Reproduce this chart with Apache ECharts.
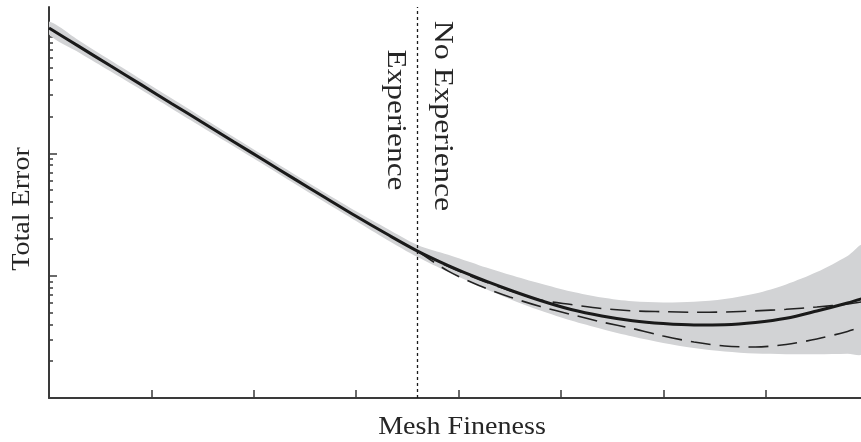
<!DOCTYPE html>
<html>
<head>
<meta charset="utf-8">
<script src="https://cdn.jsdelivr.net/npm/echarts@6/dist/echarts.min.js"></script>
<style>
  html, body { margin: 0; padding: 0; background: #fff; }
  #chart { width: 861px; height: 442px; }
</style>
</head>
<body>
<div id="chart"></div>
<script>
// Mesh fineness (arbitrary units) and total error along the common curve
const meshX = [0, 0.3, 0.6, 0.9, 1.2, 1.5, 1.8, 2.1, 2.4, 2.7, 3.0, 3.3, 3.6, 3.9, 4.2, 4.5, 4.8, 5.1, 5.4, 5.7, 6.0, 6.3, 6.6, 6.9, 7.2, 7.5, 7.8, 7.95];
const meanError = [1060, 743, 520, 365, 255, 179, 125, 88.0, 61.6, 43.4, 30.6, 21.9, 15.9, 12.1, 9.49, 7.64, 6.27, 5.29, 4.68, 4.28, 4.06, 3.95, 3.97, 4.14, 4.48, 5.14, 5.98, 6.52];
const bandUpper = [1198, 831, 577, 402, 281, 196, 137, 95.9, 67.2, 47.4, 33.6, 24.3, 17.8, 14.8, 12.2, 10.2, 8.64, 7.43, 6.63, 6.17, 6.03, 6.12, 6.45, 7.15, 8.48, 10.7, 14.5, 17.7];
const bandLower = [938, 663, 469, 331, 232, 163, 115, 80.7, 56.5, 39.7, 28.0, 19.7, 14.2, 10.7, 8.24, 6.45, 5.19, 4.30, 3.67, 3.18, 2.82, 2.56, 2.40, 2.31, 2.28, 2.28, 2.30, 2.32];

// Alternative outcomes past the experience boundary
const branchX = [3.6, 3.9, 4.2, 4.5, 4.8, 5.1, 5.4, 5.7, 6.0, 6.3, 6.6, 6.9, 7.2, 7.5, 7.8, 7.95];
const upperBranch = [15.9, 11.9, 9.31, 7.57, 6.33, 5.81, 5.39, 5.16, 5.08, 5.02, 5.05, 5.16, 5.31, 5.55, 5.87, 6.13];
const lowerBranch = [15.9, 10.9, 8.32, 6.70, 5.60, 4.82, 4.18, 3.70, 3.21, 2.87, 2.66, 2.61, 2.74, 3.04, 3.50, 3.84];

const boundaryX = 3.6;
const xTicks = [1, 2, 3, 4, 5, 6, 7];
const yMajorTicks = [10, 100, 1000];
const yMinorTicks = [2, 3, 4, 5, 6, 7, 8, 9, 20, 30, 40, 50, 60, 70, 80, 90, 200, 300, 400, 500, 600, 700, 800, 900];

const labels = {
  x: 'Mesh Fineness',
  y: 'Total Error',
  left: 'Experience',
  right: 'No Experience'
};

const ink = '#1a1a1a';
const textInk = '#262626';
const axisInk = '#3a3a3a';
const serif = '"Liberation Serif", "DejaVu Serif", serif';

const pairs = (xs, ys) => xs.map((x, i) => [x, ys[i]]);

const chart = echarts.init(document.getElementById('chart'), null, { renderer: 'canvas' });

const yBase = {
  type: 'log',
  min: 1,
  max: 1574,
  position: 'left',
  offset: 0,
  axisLabel: { show: false },
  splitLine: { show: false }
};

const dashed = { color: '#222', width: 1.6, type: [20, 9] };

chart.setOption({
  animation: false,
  backgroundColor: '#fff',
  // the plot area runs a little past the right edge of the page
  grid: { left: 49, top: 7, right: -7, bottom: 44, containLabel: false, outerBoundsMode: 'none' },
  xAxis: {
    type: 'value',
    min: 0,
    max: 8,
    interval: 1,
    axisLine: { show: true, lineStyle: { color: axisInk, width: 2 } },
    axisTick: { show: true, inside: true, length: 8, customValues: xTicks, lineStyle: { color: axisInk, width: 1.5 } },
    axisLabel: { show: false },
    splitLine: { show: false }
  },
  yAxis: [
    Object.assign({}, yBase, {
      axisLine: { show: true, lineStyle: { color: axisInk, width: 2 } },
      axisTick: { show: true, inside: true, length: 8, customValues: yMajorTicks, lineStyle: { color: axisInk, width: 1.5 } }
    }),
    Object.assign({}, yBase, {
      axisLine: { show: false },
      axisTick: { show: true, inside: true, length: 4, customValues: yMinorTicks, lineStyle: { color: axisInk, width: 1.5 } }
    })
  ],
  series: [
    {
      // uncertainty band around the total error
      type: 'custom',
      z: 1,
      silent: true,
      clip: true,
      data: [[meshX[0], meanError[0]]],
      renderItem: function (params, api) {
        const top = meshX.map((x, i) => api.coord([x, bandUpper[i]]));
        const bottom = meshX.map((x, i) => api.coord([x, bandLower[i]])).reverse();
        return {
          type: 'polygon',
          shape: { points: top.concat(bottom), smooth: 0.3 },
          style: { fill: '#d2d3d5', stroke: null }
        };
      }
    },
    {
      type: 'line',
      z: 4,
      data: pairs(branchX, upperBranch),
      smooth: 0.3,
      showSymbol: false,
      silent: true,
      lineStyle: dashed
    },
    {
      type: 'line',
      z: 4,
      data: pairs(branchX, lowerBranch),
      smooth: 0.3,
      showSymbol: false,
      silent: true,
      lineStyle: dashed
    },
    {
      type: 'line',
      z: 5,
      data: pairs(meshX, meanError),
      smooth: 0.3,
      showSymbol: false,
      silent: true,
      lineStyle: { color: ink, width: 3 },
      markLine: {
        silent: true,
        symbol: ['none', 'none'],
        label: { show: false },
        lineStyle: { color: ink, width: 1.3, type: [3, 3] },
        data: [{ xAxis: boundaryX }]
      }
    }
  ]
});

// Axis titles and the two region labels beside the boundary
const bx = chart.convertToPixel({ xAxisIndex: 0 }, boundaryX);
const textEl = (text, x, y, size, rot, sx) => ({
  type: 'text',
  x: x,
  y: y,
  rotation: rot,
  scaleX: sx,
  silent: true,
  style: { text: text, font: size + 'px ' + serif, fill: textInk, align: 'center', verticalAlign: 'middle' }
});
chart.setOption({
  graphic: [
    textEl(labels.x, 462, 427, 26, 0, 1.08),
    textEl(labels.y, 22, 209, 26, Math.PI / 2, 1.08),
    textEl(labels.left, bx - 22, 120, 28, -Math.PI / 2, 1.12),
    textEl(labels.right, bx + 25, 116, 28, -Math.PI / 2, 1.14)
  ]
});
</script>
</body>
</html>
